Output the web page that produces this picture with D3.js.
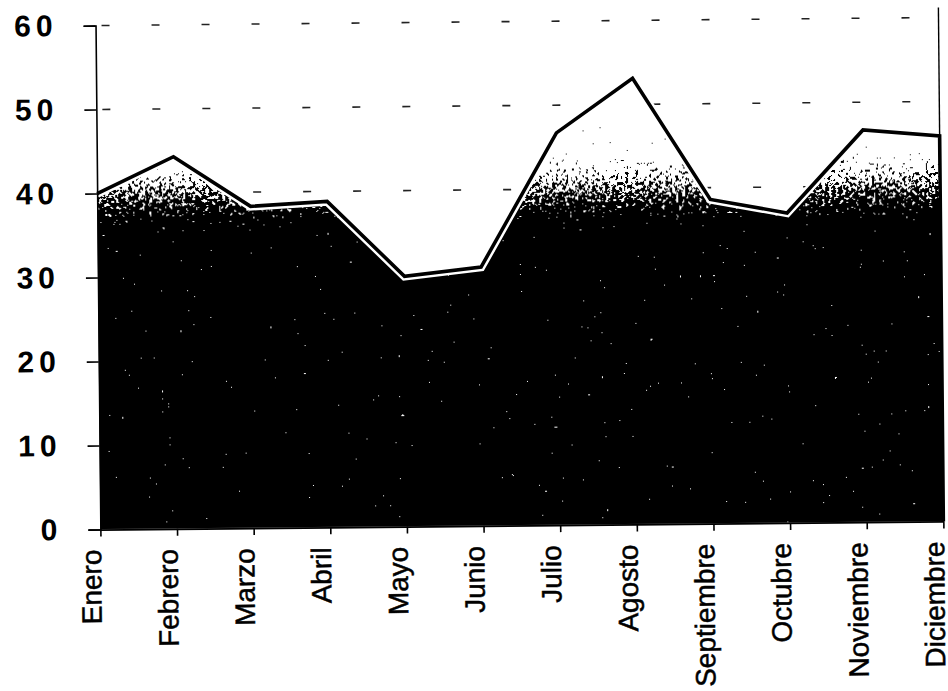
<!DOCTYPE html>
<html>
<head>
<meta charset="utf-8">
<script src="https://cdn.jsdelivr.net/npm/d3@7"></script>
<style>
    body { margin: 0; background: #fff; }
    svg { display: block; }
</style>
</head>
<body>
<div id="chart"></div>
<script>
const months = ['Enero', 'Febrero', 'Marzo', 'Abril', 'Mayo', 'Junio', 'Julio',
    'Agosto', 'Septiembre', 'Octubre', 'Noviembre', 'Diciembre'];
const values = [40, 44.3, 38.3, 38.8, 29.8, 30.8, 46.7, 53.1, 38.6, 36.9, 46.7, 45.9];
const yTicks = [0, 10, 20, 30, 40, 50, 60];

class CreateAreaChart {
    constructor(width, height) {
        this.width = width;
        this.height = height;
    }

    Create(target) {
        let svg = d3.select(target)
            .append('svg')
            .attr('width', this.width)
            .attr('height', this.height);

        // scanned page is a little crooked
        const g = svg.append('g')
            .attr('transform', 'rotate(-0.55, 520, 280)');

        let x = d3.scalePoint()
            .domain(months)
            .range([98, 941]);
        let y = d3.scaleLinear()
            .domain([0, 60])
            .range([525.5, 21.5]);

        const defs = svg.append('defs');
        const grad = defs.append('linearGradient')
            .attr('id', 'fade')
            .attr('gradientUnits', 'userSpaceOnUse')
            .attr('x1', 0).attr('x2', 0)
            .attr('y1', y(35.5)).attr('y2', y(44.5));
        grad.append('stop').attr('offset', 0).attr('stop-color', '#000');
        grad.append('stop').attr('offset', 1).attr('stop-color', '#fff');

        // speckle the fade like a photocopied halftone
        const f = defs.append('filter')
            .attr('id', 'grain')
            .attr('filterUnits', 'userSpaceOnUse')
            .attr('x', 0).attr('y', 0)
            .attr('width', this.width).attr('height', this.height)
            .attr('color-interpolation-filters', 'sRGB');
        f.append('feTurbulence')
            .attr('type', 'fractalNoise')
            .attr('baseFrequency', 0.3)
            .attr('numOctaves', 3)
            .attr('seed', 4)
            .attr('result', 'noise');
        f.append('feColorMatrix')
            .attr('in', 'noise')
            .attr('type', 'matrix')
            .attr('values', '1 0 0 0 0  1 0 0 0 0  1 0 0 0 0  0 0 0 0 1')
            .attr('result', 'gray');
        f.append('feComposite')
            .attr('in', 'SourceGraphic').attr('in2', 'gray')
            .attr('operator', 'arithmetic')
            .attr('k1', 0).attr('k2', 1).attr('k3', 1.5).attr('k4', -0.75)
            .attr('result', 'mix');
        const ct = f.append('feComponentTransfer')
            .attr('in', 'mix')
            .attr('result', 'bin');
        ['feFuncR', 'feFuncG', 'feFuncB'].forEach(n => {
            ct.append(n).attr('type', 'discrete').attr('tableValues', '0 1');
        });
        ct.append('feFuncA').attr('type', 'linear').attr('slope', 0).attr('intercept', 1);
        f.append('feComposite')
            .attr('in', 'bin').attr('in2', 'SourceGraphic')
            .attr('operator', 'in');

        // dashed gridlines
        g.append('g')
            .selectAll('line')
            .data(yTicks.filter(d => d > 0))
            .enter()
            .append('line')
            .attr('x1', x.range()[0])
            .attr('x2', x.range()[1])
            .attr('y1', d => y(d))
            .attr('y2', d => y(d))
            .attr('stroke', '#222')
            .attr('stroke-width', 1.6)
            .attr('stroke-dasharray', '8,42')
            .attr('stroke-dashoffset', -6);

        let area = d3.area()
            .x((d, i) => x(months[i]))
            .y0(y(0))
            .y1(d => y(d));

        g.append('path')
            .datum(values)
            .attr('d', area)
            .attr('fill', 'url(#fade)')
            .attr('filter', 'url(#grain)');

        // line plus the drop at the right end
        let pts = values.map((d, i) => [x(months[i]), y(d)]);
        pts.push([x(months[months.length - 1]), y(0)]);
        let line = d3.line();

        g.append('path')
            .attr('d', line(pts.slice(0, -1)))
            .attr('fill', 'none')
            .attr('stroke', '#fff')
            .attr('stroke-width', 8.5)
            .attr('stroke-linejoin', 'miter');
        g.append('path')
            .attr('d', line(pts))
            .attr('fill', 'none')
            .attr('stroke', '#000')
            .attr('stroke-width', 3.6)
            .attr('stroke-linejoin', 'miter');

        // thin right border
        g.append('line')
            .attr('x1', x.range()[1]).attr('x2', x.range()[1])
            .attr('y1', y(61.2)).attr('y2', y(0))
            .attr('stroke', '#000')
            .attr('stroke-width', 1.4);

        let yAxis = g.append('g')
            .attr('transform', `translate(${x.range()[0]},0)`)
            .call(d3.axisLeft(y)
                .tickValues(yTicks)
                .tickSize(12)
                .tickPadding(26)
                .tickFormat(d3.format('d')));
        yAxis.select('.domain').attr('stroke-width', 1.6);
        yAxis.selectAll('.tick line').attr('stroke-width', 1.6);
        yAxis.selectAll('text')
            .attr('font-family', 'Liberation Sans, Arial, sans-serif')
            .attr('font-size', 30)
            .attr('font-weight', 'bold')
            .attr('letter-spacing', 5)
            .attr('fill', '#000');

        let xAxis = g.append('g')
            .attr('transform', `translate(0,${y(0)})`)
            .call(d3.axisBottom(x).tickSizeInner(7).tickSizeOuter(0));
        xAxis.select('.domain').attr('stroke-width', 1.8);
        xAxis.selectAll('.tick line').attr('stroke-width', 1.6);
        xAxis.selectAll('text')
            .attr('transform', 'rotate(-90)')
            .attr('x', -20)
            .attr('y', 0)
            .attr('dy', 0)
            .attr('text-anchor', 'end')
            .attr('font-family', 'Liberation Sans, Arial, sans-serif')
            .attr('font-size', 28)
            .attr('fill', '#000')
            .attr('stroke', '#000')
            .attr('stroke-width', 0.5);
    }
}

new CreateAreaChart(948, 691).Create('#chart');
</script>
</body>
</html>
